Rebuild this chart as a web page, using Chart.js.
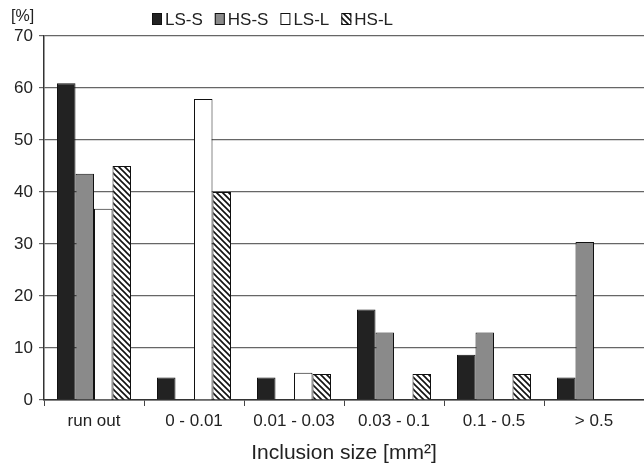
<!DOCTYPE html>
<html><head><meta charset="utf-8">
<script src="https://cdn.jsdelivr.net/npm/chart.js@4/dist/chart.umd.min.js"></script>
<style>html,body{margin:0;padding:0;background:#fff;overflow:hidden}#wrap{width:644px;height:470px}</style>
</head><body><div id="wrap"><canvas id="c" width="644" height="470"></canvas></div>
<script>
const categories = ["run out", "0 - 0.01", "0.01 - 0.03", "0.03 - 0.1", "0.1 - 0.5", "> 0.5"];
const seriesNames = ["LS-S", "HS-S", "LS-L", "HS-L"];
const lsS = [60.9, 4.35, 4.35, 17.4, 8.7, 4.35];
const hsS = [43.5, 0, 0, 13.0, 13.0, 30.4];
const lsL = [36.8, 57.9, 5.26, 0, 0, 0];
const hsL = [45, 40, 5, 5, 5, 0];
const yTicks = [0, 10, 20, 30, 40, 50, 60, 70];

const FONT = '"Liberation Sans", Arial, sans-serif';

function hatch() {
  const s = 6, pc = document.createElement('canvas');
  pc.width = s; pc.height = s;
  const g = pc.getContext('2d');
  g.fillStyle = '#fff'; g.fillRect(0, 0, s, s);
  g.strokeStyle = '#111'; g.lineWidth = 1.6;
  g.beginPath();
  g.moveTo(-1, -1); g.lineTo(s + 1, s + 1);
  g.moveTo(-1, s - 1); g.lineTo(1, s + 1);
  g.moveTo(s - 1, -1); g.lineTo(s + 1, 1);
  g.stroke();
  return document.getElementById('c').getContext('2d').createPattern(pc, 'repeat');
}
const fills = ['#222222', '#8a8a8a', '#ffffff', hatch()];
const values = [lsS, hsS, lsL, hsL];

const customLegend = {
  id: 'customLegend',
  afterDraw(chart) {
    const ctx = chart.ctx;
    ctx.save();
    ctx.font = '17px ' + FONT;
    ctx.textBaseline = 'middle';
    let x = 152; const y = 19;
    chart.data.datasets.forEach((ds) => {
      ctx.fillStyle = ds.backgroundColor;
      ctx.fillRect(x, y - 6, 10, 12);
      ctx.strokeStyle = '#111'; ctx.lineWidth = 1;
      ctx.strokeRect(x + 0.5, y - 5.5, 9, 11);
      ctx.fillStyle = '#222';
      ctx.fillText(ds.label, x + 13, y + 1);
      x += 13 + ctx.measureText(ds.label).width + 12;
    });
    ctx.font = '16px ' + FONT;
    ctx.fillText('[%]', 11, 17);
    ctx.restore();
  }
};

new Chart(document.getElementById('c'), {
  type: 'bar',
  data: {
    labels: categories,
    datasets: seriesNames.map((n, i) => ({
      label: n, data: values[i], backgroundColor: fills[i],
      borderColor: '#111', borderWidth: 1
    }))
  },
  options: {
    responsive: false, animation: false,
    layout: { padding: { top: 36, right: 0, left: 0, bottom: 0 } },
    datasets: { bar: { categoryPercentage: 0.74, barPercentage: 1.0 } },
    plugins: { legend: { display: false }, tooltip: { enabled: false } },
    scales: {
      x: {
        grid: { offset: true, drawOnChartArea: false, color: '#444', tickLength: 6 },
        border: { color: '#333', width: 1.5 },
        ticks: { color: '#222', font: { size: 17, family: FONT }, padding: 5, maxRotation: 0, autoSkip: false },
        title: { display: true, text: 'Inclusion size [mm²]', color: '#222', font: { size: 21, family: FONT }, padding: { top: 6 } },
        afterFit(s) { s.height = 70; }
      },
      y: {
        min: 0, max: 70,
        afterBuildTicks(s) { s.ticks = yTicks.map(v => ({ value: v })); },
        grid: { color: '#666', lineWidth: 1.2, tickLength: 5, drawTicks: true },
        border: { color: '#333', width: 1.5 },
        ticks: { color: '#222', font: { size: 17, family: FONT }, padding: 6 },
        afterFit(s) { s.width = 44; }
      }
    }
  },
  plugins: [customLegend]
});
</script></body></html>
